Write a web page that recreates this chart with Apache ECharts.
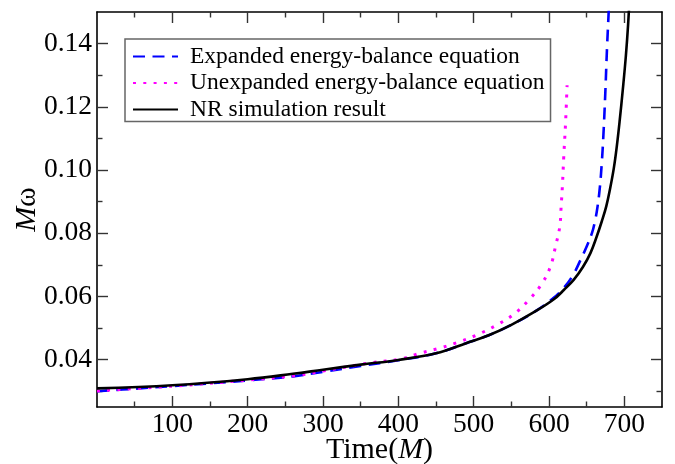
<!DOCTYPE html>
<html>
<head>
<meta charset="utf-8">
<title>Orbital frequency evolution</title>
<script src="https://cdn.jsdelivr.net/npm/echarts@6/dist/echarts.min.js"></script>
<style>
  html, body { margin: 0; padding: 0; background: #ffffff; }
  #chart { width: 675px; height: 464px; }
</style>
</head>
<body>
<div id="chart"></div>
<script>
// Orbital frequency M*omega versus time (in units of M)
const seriesNames = [
  'Expanded energy-balance equation',
  'Unexpanded energy-balance equation',
  'NR simulation result'
];

// [time, M*omega]
const expandedBalance = [
  [0, 0.0300], [50, 0.0308], [100, 0.0316], [150, 0.0325], [200, 0.0334],
  [260, 0.0347], [302, 0.0362], [350, 0.0380], [400, 0.0398], [450, 0.0420],
  [490, 0.0452], [520, 0.0477], [550, 0.0510], [580, 0.0550], [605, 0.0593],
  [620, 0.0628], [632, 0.0668], [642, 0.0716], [650, 0.0758], [657, 0.0800],
  [661, 0.0838], [664.5, 0.0885], [667.5, 0.0945], [670, 0.1020],
  [672.2, 0.1110], [674.5, 0.1230], [677, 0.1385], [679.2, 0.1500],
  [680.5, 0.1580]
];

const unexpandedBalance = [
  [0, 0.0301], [100, 0.0316], [200, 0.0335], [266, 0.0350], [300, 0.0364],
  [364, 0.0390], [403, 0.0402], [430, 0.0421], [456, 0.0437], [483, 0.0458],
  [507, 0.0481], [531, 0.0510], [553, 0.0543], [573, 0.0588], [589.6, 0.0637],
  [602, 0.0695], [608.6, 0.0758], [614.3, 0.0821], [616.1, 0.0884],
  [617.8, 0.0950], [619.6, 0.1043], [622, 0.1150], [624, 0.1268]
];

const nrSimulation = [
  [0, 0.0309], [100, 0.0319], [200, 0.0338], [260, 0.0355], [300, 0.0368],
  [350, 0.0384], [400, 0.0399], [450, 0.0420], [490, 0.0452], [520, 0.0477],
  [550, 0.0510], [580, 0.0550], [606, 0.0590], [620, 0.0621], [633, 0.0653],
  [645, 0.0693], [655, 0.0737], [663, 0.0787], [670, 0.0837], [676, 0.0885],
  [681, 0.0940], [686, 0.1005], [690, 0.1075], [694, 0.1160], [698, 0.1255],
  [702, 0.1360], [705, 0.1460], [707, 0.1550]
];

// axis ranges and tick positions
const timeRange = [0, 750];
const omegaRange = [0.025, 0.15];
const timeMajorTicks = [100, 200, 300, 400, 500, 600, 700];
const timeMinorTicks = [50, 150, 250, 350, 450, 550, 650];
const omegaMajorTicks = [0.04, 0.06, 0.08, 0.10, 0.12, 0.14];
const omegaMinorTicks = [0.03, 0.05, 0.07, 0.09, 0.11, 0.13];

const FONT = 'Liberation Serif';
const TICK_FONT_SIZE = 27.5;

function timeAxis(position, ticks, tickLen, withLabels, withLine) {
  return {
    type: 'value', position: position, gridIndex: 0,
    min: timeRange[0], max: timeRange[1],
    axisLine: { show: withLine, onZero: false, lineStyle: { color: '#000', width: 1.6 } },
    axisTick: { show: true, inside: true, length: tickLen, customValues: ticks,
                lineStyle: { color: '#333', width: 1.4 } },
    axisLabel: { show: withLabels, customValues: ticks, margin: 4,
                 fontFamily: FONT, fontSize: TICK_FONT_SIZE, color: '#000' },
    splitLine: { show: false }
  };
}

function omegaAxis(position, ticks, tickLen, withLabels, withLine) {
  return {
    type: 'value', position: position, gridIndex: 0,
    min: omegaRange[0], max: omegaRange[1],
    axisLine: { show: withLine, onZero: false, lineStyle: { color: '#000', width: 1.6 } },
    axisTick: { show: true, inside: true, length: tickLen, customValues: ticks,
                lineStyle: { color: '#333', width: 1.4 } },
    axisLabel: { show: withLabels, customValues: ticks, margin: 5,
                 fontFamily: FONT, fontSize: TICK_FONT_SIZE, color: '#000',
                 formatter: function (v) { return v.toFixed(2); } },
    splitLine: { show: false }
  };
}

const nameRich = {
  t: { fontFamily: FONT, fontSize: 30, color: '#000' },
  i: { fontFamily: FONT, fontSize: 30, fontStyle: 'italic', color: '#000' }
};

const xAxes = [
  timeAxis('bottom', timeMajorTicks, 11, true, true),
  timeAxis('bottom', timeMinorTicks, 5.5, false, false),
  timeAxis('top', timeMajorTicks, 11, false, true),
  timeAxis('top', timeMinorTicks, 5.5, false, false)
];
xAxes[0].name = '{t|Time(}{i|M}{t|)}';
xAxes[0].nameLocation = 'middle';
xAxes[0].nameGap = 28;
xAxes[0].nameMoveOverlap = false;
xAxes[0].nameTextStyle = { rich: nameRich };

const yAxes = [
  omegaAxis('left', omegaMajorTicks, 11, true, true),
  omegaAxis('left', omegaMinorTicks, 5.5, false, false),
  omegaAxis('right', omegaMajorTicks, 11, false, true),
  omegaAxis('right', omegaMinorTicks, 5.5, false, false)
];
yAxes[0].name = '{i|M}{t|ω}';
yAxes[0].nameLocation = 'middle';
yAxes[0].nameGap = 55;
yAxes[0].nameMoveOverlap = false;
yAxes[0].nameTextStyle = { rich: nameRich };

function curve(name, data, color, width, dash) {
  return {
    name: name, type: 'line', data: data,
    xAxisIndex: 0, yAxisIndex: 0,
    showSymbol: false, symbol: 'none',
    smooth: 0.4,
    clip: true,
    lineStyle: { color: color, width: width, type: dash, cap: 'butt' },
    itemStyle: { color: color }
  };
}

const chart = echarts.init(document.getElementById('chart'), null, { renderer: 'canvas' });
chart.setOption({
  animation: false,
  backgroundColor: '#ffffff',
  grid: { left: 97, right: 13, top: 12, bottom: 57, outerBoundsMode: 'none', containLabel: false },
  legend: {
    data: seriesNames,
    orient: 'vertical',
    left: 125, top: 39,
    padding: [5.5, 6, 0, 7],
    itemGap: 2.5,
    itemWidth: 45, itemHeight: 14,
    borderColor: '#666', borderWidth: 1.5,
    itemStyle: { opacity: 0 },
    textStyle: { fontFamily: FONT, fontSize: 23.5, color: '#000', padding: [0, 0, 0, 7] }
  },
  xAxis: xAxes,
  yAxis: yAxes,
  series: [
    curve(seriesNames[0], expandedBalance, '#0000ff', 2.6, [12, 7.5]),
    curve(seriesNames[1], unexpandedBalance, '#ff00ff', 3, [3, 7.3]),
    curve(seriesNames[2], nrSimulation, '#000000', 2.6, 'solid')
  ]
});
</script>
</body>
</html>
